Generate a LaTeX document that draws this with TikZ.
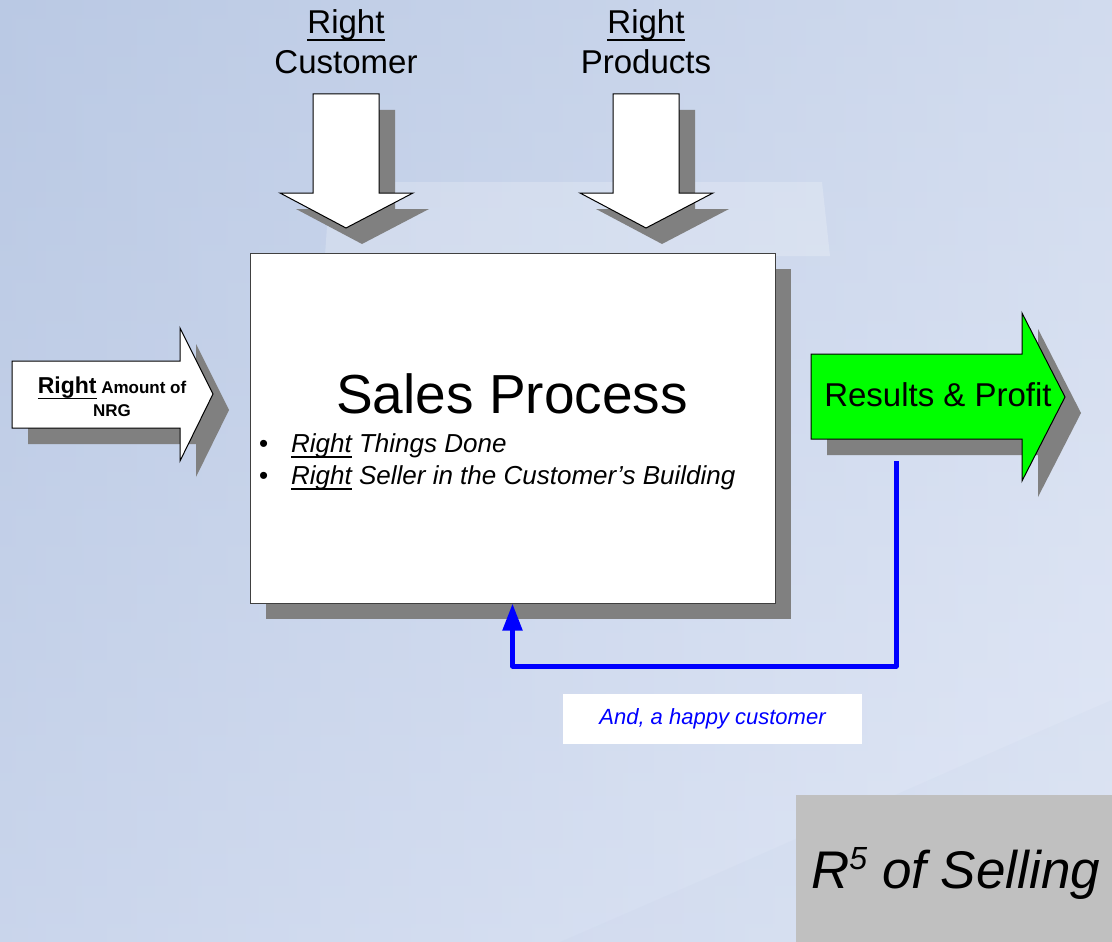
\documentclass[tikz,border=0pt]{standalone}
\usepackage{fontspec}
\setmainfont{Liberation Sans}
\usetikzlibrary{arrows.meta,positioning,calc}
\definecolor{bgtop}{RGB}{186,201,228}
\definecolor{bgbottom}{RGB}{218,226,244}
\definecolor{shadowgrey}{HTML}{808080}
\definecolor{panelgrey}{HTML}{C0C0C0}
\definecolor{profitgreen}{HTML}{00FF00}
\newcommand\ulr[1]{\setbox0\hbox{#1}\rlap{\rule[-0.22em]{\wd0}{0.05em}}\box0\relax}
\tikzset{
  blockarrow/.style={draw=black, line width=1pt, fill=#1, line join=miter},
  blockarrow/.default=white,
  dropshade/.style={fill=shadowgrey},
  feedback/.style={draw=blue, line width=5pt, line join=round,
    -{Triangle[length=27pt,width=19pt]}}
}

\begin{document}
\begin{tikzpicture}[x=1pt, y=-1pt,
  lbl/.style={inner sep=0pt, align=center},
  procbox/.style={rectangle, draw=black!75, line width=1pt, fill=white,
    minimum width=525pt, minimum height=350pt, inner sep=0pt}
]
\useasboundingbox (0,0) rectangle (1112,942);

% Background
\shade[top color=bgtop, bottom color=bgbottom] (0,0) rectangle (1112,942);
\shade[left color=bgtop, right color=bgbottom!60!white, opacity=0.5] (0,0) rectangle (1112,942);
\fill[white, opacity=0.22] (330,182) -- (822,182) -- (830,256) -- (325,256) -- cycle;
\fill[bgtop, opacity=0.1] (560,942) .. controls (750,860) and (950,770) .. (1112,700) -- (1112,942) -- cycle;

% Input labels
\node[lbl, font=\fontsize{33}{40}\selectfont] (custlbl) at (346,42) {\ulr{Right}\\Customer};
\node[lbl, font=\fontsize{33}{40}\selectfont] (prodlbl) at (646,42) {\ulr{Right}\\Products};

% Shadows
\fill[dropshade, shift={(16,16)}] (313,94) -- (379,94) -- (379,193) -- (413,193) -- (346,228) -- (280,193) -- (313,193) -- cycle;
\fill[dropshade, shift={(16,16)}] (613,94) -- (679,94) -- (679,193) -- (713,193) -- (646,228) -- (580,193) -- (613,193) -- cycle;
\fill[dropshade, shift={(16,16)}] (12,361) -- (180,361) -- (180,328) -- (213,394) -- (180,461) -- (180,428) -- (12,428) -- cycle;
\fill[dropshade, shift={(16,16)}] (811,354) -- (1022,354) -- (1022,313) -- (1065,397) -- (1022,481) -- (1022,439) -- (811,439) -- cycle;
\fill[dropshade] (266,269) rectangle (791,619);

% Block arrows
\draw[blockarrow] (313,94) -- (379,94) -- (379,193) -- (413,193) -- (346,228) -- (280,193) -- (313,193) -- cycle;
\draw[blockarrow] (613,94) -- (679,94) -- (679,193) -- (713,193) -- (646,228) -- (580,193) -- (613,193) -- cycle;
\draw[blockarrow] (12,361) -- (180,361) -- (180,328) -- (213,394) -- (180,461) -- (180,428) -- (12,428) -- cycle;
\draw[blockarrow=profitgreen] (811,354) -- (1022,354) -- (1022,313) -- (1065,397) -- (1022,481) -- (1022,439) -- (811,439) -- cycle;

% Sales process box
\node[procbox] (proc) at (512.5,428) {};
\node[inner sep=0pt, anchor=base, font=\fontsize{55}{60}\selectfont] (proctitle) at (512,413) {Sales Process};
\node[inner sep=0pt, anchor=base west, align=left, font=\fontsize{26}{32}\selectfont] (procpoints) at (259,484)
  {\makebox[32pt][l]{\textbullet}\textit{\ulr{Right} Things Done}\\
   \makebox[32pt][l]{\textbullet}\textit{\ulr{Right} Seller in the Customer’s Building}};

% Arrow texts
\node[lbl, font=\bfseries\fontsize{17}{23}\selectfont] (nrg) at (112,397)
  {{\fontsize{23}{23}\selectfont\ulr{Right}} Amount of\\NRG};
\node[inner sep=0pt, anchor=base, font=\fontsize{33}{40}\selectfont] (results) at (938,406) {Results \& Profit};

% Feedback loop
\coordinate (fbstart) at (896,461);
\coordinate (fbcorner) at (proc.south |- 0,666);
\draw[feedback] (fbstart) |- (fbcorner) -- (proc.south);
\node[fill=white, minimum width=299pt, minimum height=50pt, inner sep=0pt,
  text=blue, font=\itshape\fontsize{22}{26}\selectfont] (happy) at (712.5,719) {And, a happy customer};

% Title panel
\node[fill=panelgrey, minimum width=316pt, minimum height=147pt, inner sep=0pt] (panel) at (954,868.5) {};
\node[inner sep=0pt, anchor=base west, font=\itshape\fontsize{53}{60}\selectfont] (rfive) at (811,888)
  {R\raisebox{0.34em}{\fontsize{32}{32}\selectfont 5} of Selling};
\end{tikzpicture}
\end{document}
